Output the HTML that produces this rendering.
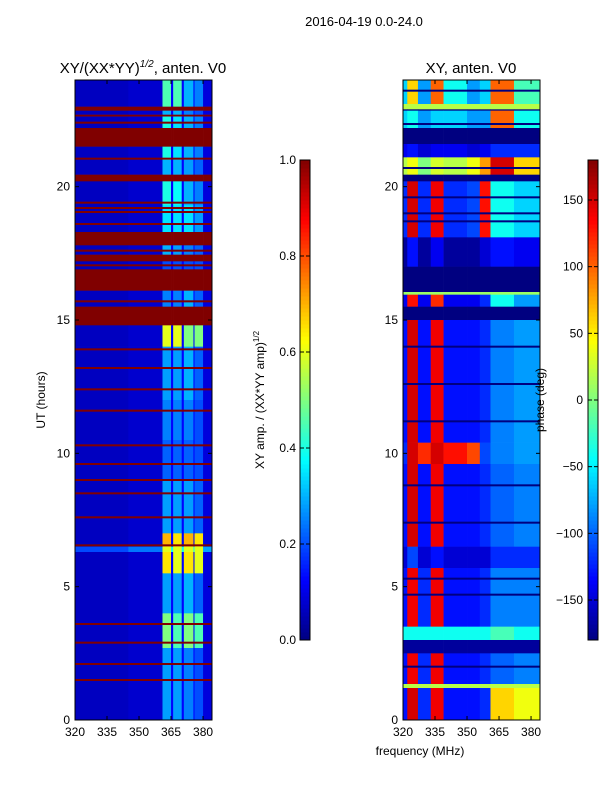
<!DOCTYPE html>
<html><head><meta charset="utf-8"><style>
html,body{margin:0;padding:0;background:#fff;}
svg{display:block;font-family:"Liberation Sans",sans-serif;}
</style></head><body>
<svg id="fig" width="600" height="800" viewBox="0 0 600 800" xmlns="http://www.w3.org/2000/svg">
<text x="364" y="26" font-size="13" text-anchor="middle">2016-04-19 0.0-24.0</text>
<text x="143" y="73" font-size="15" text-anchor="middle">XY/(XX*YY)<tspan font-size="10" dy="-6" font-style="italic">1/2</tspan><tspan dy="6">, anten. V0</tspan></text>
<text x="471" y="73" font-size="15" text-anchor="middle">XY, anten. V0</text>
<text transform="translate(45,400) rotate(-90)" font-size="12" text-anchor="middle">UT (hours)</text>
<text x="420" y="755" font-size="12" text-anchor="middle">frequency (MHz)</text>
<text transform="translate(264,400) rotate(-90)" font-size="12" text-anchor="middle">XY amp. / (XX*YY amp)<tspan font-size="8" dy="-5">1/2</tspan></text>
<g id="gL"></g>
<g id="gR"></g>
<g id="gC"></g>
<g id="gA"></g>
<text transform="translate(544,400) rotate(-90)" font-size="12" text-anchor="middle">phase (deg)</text>
</svg>
<script>
// ---- data ----
const yTicks=[0,5,10,15,20];
const xTicks=[320,335,350,365,380];
const ampTicks=[0.0,0.2,0.4,0.6,0.8,1.0];
const phaseTicks=[-150,-100,-50,0,50,100,150];
// left amplitude: freq column edges (MHz)
const ampColEdges=[320,345,361,365,366,370,371,375.5,376,380,384.2];
// rows: [t0,t1,bg,s1,s2,s3,s4]
const ampRows=[
[23.0,24,0.07,0.45,0.45,0.3,0.25],
[22.85,23.0,1,1,1,1,1],
[22.7,22.85,0.07,0.3,0.3,0.25,0.2],
[22.63,22.7,1,1,1,1,1],
[22.2,22.63,0.07,0.4,0.35,0.3,0.25],
[21.5,22.2,1,1,1,1,1],
[21.0,21.5,0.07,0.4,0.35,0.3,0.25],
[20.45,21.0,0.07,0.3,0.3,0.28,0.22],
[20.2,20.45,1,1,1,1,1],
[19.3,20.2,0.07,0.4,0.38,0.3,0.25],
[18.3,19.3,0.07,0.35,0.35,0.35,0.28],
[17.8,18.3,1,1,1,1,1],
[17.45,17.8,0.07,0.3,0.28,0.25,0.22],
[17.2,17.45,1,1,1,1,1],
[16.9,17.2,0.07,0.2,0.2,0.2,0.2],
[16.1,16.9,1,1,1,1,1],
[15.5,16.1,0.07,0.25,0.25,0.3,0.22],
[14.8,15.5,1,1,1,1,1],
[14.0,14.8,0.07,0.6,0.6,0.5,0.5],
[12.0,14.0,0.07,0.28,0.28,0.3,0.22],
[10.5,12.0,0.07,0.25,0.25,0.25,0.2],
[9.0,10.5,0.07,0.22,0.22,0.22,0.2],
[7.0,9.0,0.07,0.28,0.28,0.28,0.22],
[6.5,7.0,0.07,0.7,0.65,0.7,0.65],
[6.3,6.5,0.22,0.6,0.6,0.6,0.6],
[5.5,6.3,0.07,0.65,0.6,0.65,0.6],
[4.0,5.5,0.07,0.28,0.28,0.3,0.22],
[2.7,4.0,0.07,0.5,0.45,0.5,0.45],
[0,2.7,0.07,0.28,0.28,0.25,0.2]
];
const ampFlagLines=[22.4,21.05,19.4,19.2,19.05,18.6,17.6,17.05,15.7,13.9,13.2,12.4,11.6,10.3,9.6,9.0,8.5,7.6,6.55,3.6,2.9,2.1,1.5];
// right phase: freq column edges
const phColEdges=[320,322,327,333,339,350,356,361,372,384.2];
// rows: [t0,t1, c1..c9] degrees
const phRows=[
[23.1,24,-60,60,-80,100,-40,-80,-60,100,-20],
[22.9,23.1,20,20,20,20,20,20,20,20,20],
[22.85,22.9,-180,-180,-180,-180,-180,-180,-180,-180,-180],
[22.2,22.85,-60,-40,-80,-60,-60,-80,-80,100,-40],
[21.6,22.2,-180,-180,-180,-180,-180,-180,-180,-180,-180],
[21.1,21.6,-140,-130,-150,-140,-140,-150,-140,-120,-120],
[20.45,21.1,20,40,0,30,20,40,80,150,60],
[20.2,20.45,-180,-180,-180,-180,-180,-180,-180,-180,-180],
[18.1,20.2,-120,150,-120,140,-120,-110,130,-40,-60],
[17.0,18.1,-170,-130,-170,-140,-170,-170,-150,-130,-140],
[16.05,17.0,-180,-180,-180,-180,-180,-180,-180,-180,-180],
[15.95,16.05,10,10,10,10,10,10,10,10,10],
[15.5,15.95,-140,130,-140,120,-140,-140,-120,-40,-80],
[15.0,15.5,-180,-180,-180,-180,-180,-180,-180,-180,-180],
[10.4,15.0,-130,150,-130,140,-130,-130,-120,-90,-80],
[9.6,10.4,-120,150,120,150,130,110,-110,-90,-80],
[6.5,9.6,-130,150,-130,140,-130,-130,-120,-100,-90],
[5.7,6.5,-150,-110,-150,-130,-150,-150,-150,-120,-120],
[3.5,5.7,-130,140,-120,140,-130,-130,-120,-90,-90],
[3.0,3.5,-40,-40,-40,-40,-40,-40,-40,-20,-40],
[2.5,3.0,-170,-170,-170,-170,-170,-170,-170,-170,-170],
[1.35,2.5,-130,140,-120,140,-130,-130,-120,-100,-90],
[1.2,1.35,20,20,20,20,20,20,20,20,20],
[0,1.2,-130,150,-120,140,-130,-130,-120,60,40]
];
const phNavyLines=[23.6,22.35,20.7,19.6,19.0,18.7,14.0,12.6,11.2,8.8,7.4,5.3,4.7,2.0];

// ---- geometry ----
const T=80,B=720,LX0=75,LX1=212,RX0=403,RX1=540;
const yS=h=>B-(h/24)*(B-T);
const xL=f=>LX0+(f-320)*(LX1-LX0)/(384.2-320);
const xR=f=>RX0+(f-320)*(RX1-RX0)/(384.2-320);
const NS="http://www.w3.org/2000/svg";
function jet(v){v=Math.max(0,Math.min(1,v));const c=x=>Math.round(255*Math.max(0,Math.min(1,x)));
return `rgb(${c(1.5-Math.abs(4*v-3))},${c(1.5-Math.abs(4*v-2))},${c(1.5-Math.abs(4*v-1))})`;}
function rect(g,x,y,w,h,fill){const r=document.createElementNS(NS,'rect');r.setAttribute('x',x);r.setAttribute('y',y);r.setAttribute('width',w);r.setAttribute('height',h);r.setAttribute('fill',fill);


g.appendChild(r);return r;}
function line(g,x1,y1,x2,y2,st,w){const l=document.createElementNS(NS,'line');l.setAttribute('x1',x1);l.setAttribute('y1',y1);l.setAttribute('x2',x2);l.setAttribute('y2',y2);l.setAttribute('stroke',st||'#000');l.setAttribute('stroke-width',w||1);


g.appendChild(l);}
function text(g,x,y,s,anchor){const t=document.createElementNS(NS,'text');t.setAttribute('x',x);t.setAttribute('y',y);t.setAttribute('font-size','12');t.setAttribute('text-anchor',anchor||'middle');t.textContent=s;


g.appendChild(t);}

// left heatmap
const gL=document.getElementById('gL');
ampRows.forEach(r=>{
  const [t0,t1,bg,s1,s2,s3,s4]=r;
  let vals;
  if(bg>=1){vals=[1,1,1,1,1,1,1,1,1,1];}
  else{const gap=Math.min(1,bg*1.8);vals=[bg*0.9,bg*1.1,s1,gap,s2,gap,s3,gap,s4,bg*1.3];}
  for(let i=0;i<vals.length;i++){
    const x0=xL(ampColEdges[i]),x1=xL(ampColEdges[i+1]);
    rect(gL,x0,yS(t1),x1-x0+0.3,yS(t0)-yS(t1)+0.3,jet(vals[i]));
  }
});
ampFlagLines.forEach(h=>rect(gL,LX0,yS(h)-1,LX1-LX0,2,jet(1)));

// right heatmap
const gR=document.getElementById('gR');
phRows.forEach(r=>{
  const t0=r[0],t1=r[1];
  for(let i=2;i<r.length;i++){
    const x0=xR(phColEdges[i-2]),x1=xR(phColEdges[i-1]);
    rect(gR,x0,yS(t1),x1-x0+0.3,yS(t0)-yS(t1)+0.3,jet((r[i]+180)/360));
  }
});
phNavyLines.forEach(h=>rect(gR,RX0,yS(h)-1,RX1-RX0,2,jet(0)));

// colorbars
const gC=document.getElementById('gC');
const CT=160,CB=640;
for(let i=0;i<120;i++){
  const v=i/120;const y=CB-(i+1)*(CB-CT)/120;
  rect(gC,300,y,10,(CB-CT)/120+0.5,jet(v+0.004));
  rect(gC,588,y,10,(CB-CT)/120+0.5,jet(v+0.004));
}
const cb1=document.createElementNS(NS,'rect');cb1.setAttribute('x',300);cb1.setAttribute('y',CT);cb1.setAttribute('width',10);cb1.setAttribute('height',CB-CT);cb1.setAttribute('fill','none');cb1.setAttribute('stroke','#000');


gC.appendChild(cb1);
const cb2=cb1.cloneNode();cb2.setAttribute('x',588);


gC.appendChild(cb2);
ampTicks.forEach(v=>{const y=CB-v*(CB-CT);text(gC,296,y+4,v.toFixed(1),'end');line(gC,300,y,304,y);line(gC,306,y,310,y);});
phaseTicks.forEach(v=>{const y=CB-(v+180)/360*(CB-CT);text(gC,583,y+4,v<0?'\u2212'+(-v):String(v),'end');line(gC,588,y,592,y);line(gC,594,y,598,y);});

// axes
const gA=document.getElementById('gA');
[[LX0,LX1,xL],[RX0,RX1,xR]].forEach(([a,b,xf])=>{
  const fr=document.createElementNS(NS,'rect');fr.setAttribute('x',a);fr.setAttribute('y',T);fr.setAttribute('width',b-a);fr.setAttribute('height',B-T);fr.setAttribute('fill','none');fr.setAttribute('stroke','#000');
  
  
  gA.appendChild(fr);
  yTicks.forEach(h=>{const y=yS(h);line(gA,a,y,a+4,y);line(gA,b-4,y,b,y);text(gA,a-5,y+4,String(h),'end');});
  xTicks.forEach(f=>{const x=xf(f);line(gA,x,B,x,B-4);line(gA,x,T,x,T+4);text(gA,x,B+16,String(f),'middle');});
});
</script>
</body></html>
